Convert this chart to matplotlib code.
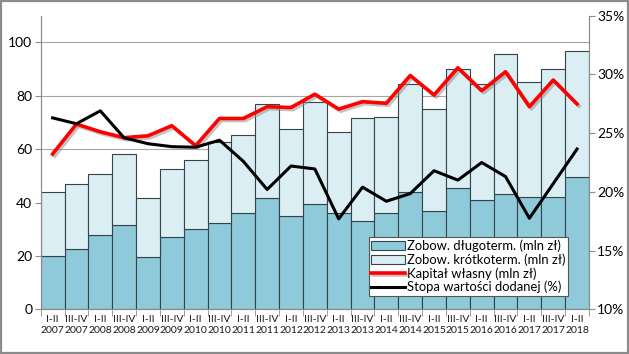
import matplotlib
matplotlib.use("Agg")
import matplotlib.pyplot as plt
import matplotlib.patheffects as pe
from matplotlib.patches import Rectangle
from matplotlib.ticker import FuncFormatter
import numpy as np

plt.rcParams['font.family'] = ['Lato', 'DejaVu Sans']

# okresy (półrocza)
periods = ["I-II\n2007", "III-IV\n2007", "I-II\n2008", "III-IV\n2008", "I-II\n2009",
           "III-IV\n2009", "I-II\n2010", "III-IV\n2010", "I-II\n2011", "III-IV\n2011",
           "I-II\n2012", "III-IV\n2012", "I-II\n2013", "III-IV\n2013", "I-II\n2014",
           "III-IV\n2014", "I-II\n2015", "III-IV\n2015", "I-II\n2016", "III-IV\n2016",
           "I-II\n2017", "III-IV\n2017", "I-II\n2018"]

# zobowiązania długoterminowe (mln zł)
long_term = [20, 22.5, 27.8, 31.5, 19.7, 27, 30.1, 32.3, 36, 41.6, 34.9, 39.3,
             36.2, 33.2, 36.2, 43.9, 36.9, 45.5, 40.8, 43.3, 42.2, 41.9, 49.4]
# suma zobowiązań (mln zł)
total = [43.8, 46.8, 50.6, 58, 41.8, 52.4, 55.8, 62.5, 65.4, 76.8, 67.4, 77.5,
         66.5, 71.5, 71.9, 84.6, 75, 89.9, 84.5, 95.7, 85, 89.9, 96.6]
short_term = [t - l for t, l in zip(total, long_term)]

# kapitał własny (mln zł)
equity = [58.2, 69.4, 66.5, 64.3, 65, 68.8, 61.3, 71.5, 71.5, 75.9, 75.6, 80.6,
          75, 77.8, 77.2, 87.6, 80.3, 90.5, 81.9, 89, 75.9, 85.9, 76.9]
# stopa wartości dodanej (%)
value_added = [26.3, 25.8, 26.9, 24.6, 24.1, 23.85, 23.8, 24.4, 22.6, 20.2, 22.2, 21.95,
               17.7, 20.4, 19.2, 19.85, 21.8, 21.0, 22.5, 21.3, 17.75, 20.7, 23.65]

x = np.arange(len(periods))

fig = plt.figure(figsize=(6.29, 3.54), dpi=100)
ax = fig.add_axes([0.0647, 0.1263, 0.8717, 0.8293])
ax2 = ax.twinx()

edge = "#34444a"
b1 = ax.bar(x, long_term, width=1.0, color="#8ECAD9", edgecolor=edge, linewidth=0.8,
            label="Zobow. długoterm. (mln zł)", zorder=2)
b2 = ax.bar(x, short_term, width=1.0, bottom=long_term, color="#DAEEF3", edgecolor=edge,
            linewidth=0.8, label="Zobow. krótkoterm. (mln zł)", zorder=2)

shadow = [pe.SimpleLineShadow(offset=(1.5, -1.5), shadow_color="#888888", alpha=0.5), pe.Normal()]
l1, = ax.plot(x, equity, color="#FF0000", linewidth=2.6, label="Kapitał własny (mln zł)",
              zorder=4, path_effects=shadow)
l2, = ax2.plot(x, value_added, color="black", linewidth=2.2, label="Stopa wartości dodanej (%)",
               zorder=4)

ax.set_xlim(-0.5, len(periods) - 0.5)
ax.set_ylim(0, 110)
ax.set_yticks(range(0, 101, 20))
ax.yaxis.grid(True, color="#a6a6a6", linewidth=0.8)
ax.set_axisbelow(True)
ax2.set_ylim(10, 35)
ax2.set_yticks(range(10, 36, 5))
ax2.yaxis.set_major_formatter(FuncFormatter(lambda v, p: "%d%%" % v))

ax.set_xticks(x)
ax.set_xticklabels(periods, fontsize=7.5, color="#1a1a1a", linespacing=1.35)
ax.set_xticks(np.arange(-0.5, len(periods), 1), minor=True)
ax.tick_params(axis="x", which="major", length=0, pad=4)
ax.tick_params(axis="x", which="minor", length=5, color="#8c8c8c", direction="out")
ax.tick_params(axis="y", length=4, color="#8c8c8c", labelsize=10, pad=2)
ax2.tick_params(axis="y", length=4, color="#8c8c8c", labelsize=10, pad=2)

for a in (ax, ax2):
    a.spines["top"].set_visible(False)
    for s in ("left", "right", "bottom"):
        a.spines[s].set_color("#8c8c8c")
        a.spines[s].set_linewidth(0.8)

handles = [b1, b2, l1, l2]
leg = ax2.legend(handles, [h.get_label() for h in handles], loc="lower right",
                 bbox_to_anchor=(0.962, 0.045), fontsize=9.4, frameon=True, fancybox=False,
                 framealpha=1, edgecolor="#555555", borderpad=0.2, labelspacing=0.1,
                 handlelength=2.6, handletextpad=0.15, borderaxespad=0)
leg.get_frame().set_linewidth(0.8)
leg.set_zorder(10)

# ramka wykresu
fig.patches.append(Rectangle((0.002, 0.003), 0.996, 0.994, transform=fig.transFigure,
                             fill=False, edgecolor="#8c8c8c", linewidth=1.6))

fig.savefig("out.png", dpi=100)
